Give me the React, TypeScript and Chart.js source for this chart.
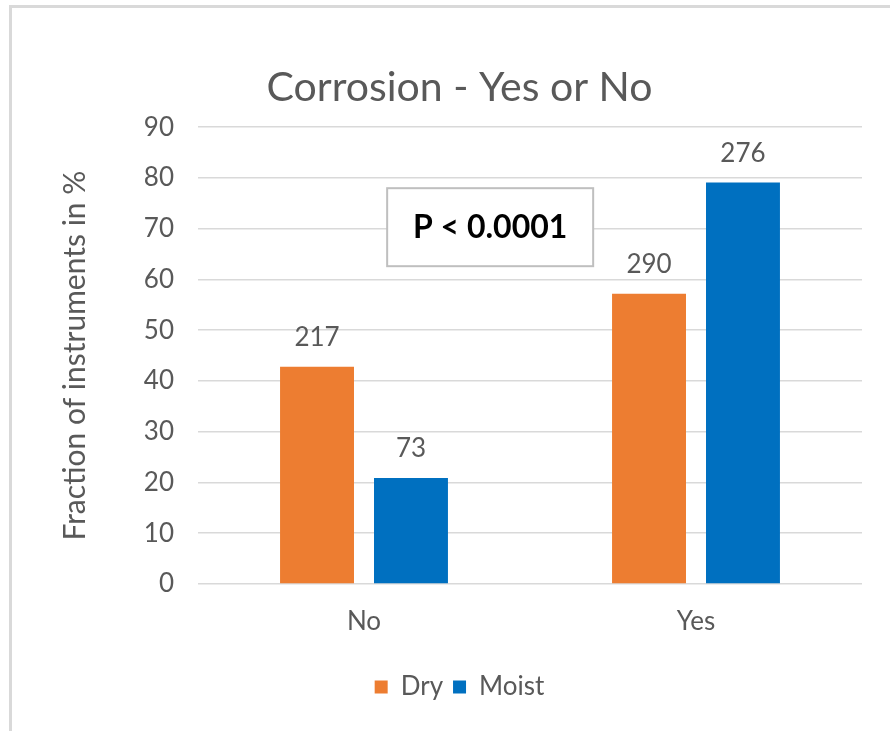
import React, { useEffect, useRef } from "react";
import { Chart, registerables } from "chart.js";

Chart.register(...registerables);

const categories = ["No", "Yes"];
const seriesNames = ["Dry", "Moist"];
const dryValues = [42.8, 57.2];
const moistValues = [20.9, 79.1];
const dryCounts = ["217", "290"];
const moistCounts = ["73", "276"];
const yMin = 0;
const yMax = 90;
const yStep = 10;
const titleText = "Corrosion - Yes or No";
const yAxisTitle = "Fraction of instruments in %";
const pValueText = "P < 0.0001";

const FONT = "Lato, 'Open Sans', sans-serif";
const GREY = "#595959";

const countLabels = [dryCounts, moistCounts];

const dataLabelPlugin = {
  id: "countLabels",
  afterDatasetsDraw(chart: any) {
    const ctx = chart.ctx;
    ctx.save();
    ctx.font = `26px ${FONT}`;
    ctx.fillStyle = GREY;
    ctx.textAlign = "center";
    ctx.textBaseline = "alphabetic";
    chart.data.datasets.forEach((_ds: any, i: number) => {
      const meta = chart.getDatasetMeta(i);
      meta.data.forEach((bar: any, j: number) => {
        ctx.fillText(countLabels[i][j], bar.x, bar.y - 21);
      });
    });
    ctx.restore();
  },
};

const pValuePlugin = {
  id: "pValueBox",
  afterDraw(chart: any) {
    const { ctx, scales } = chart;
    const xs = scales.x;
    const ys = scales.y;
    const x0 = xs.getPixelForValue(0);
    const x1 = xs.getPixelForValue(1);
    const cx = x0 + (x1 - x0) * 0.38;
    const cy = ys.getPixelForValue(70.3);
    const w = 206;
    const h = 78;
    ctx.save();
    ctx.fillStyle = "#ffffff";
    ctx.fillRect(cx - w / 2, cy - h / 2, w, h);
    ctx.strokeStyle = "#bfbfbf";
    ctx.lineWidth = 2;
    ctx.strokeRect(cx - w / 2, cy - h / 2, w, h);
    ctx.font = `bold 32px ${FONT}`;
    ctx.fillStyle = "#000000";
    ctx.textAlign = "center";
    ctx.textBaseline = "middle";
    ctx.fillText(pValueText, cx, cy);
    ctx.restore();
  },
};

export default function App() {
  const canvasRef = useRef<HTMLCanvasElement>(null);

  useEffect(() => {
    if (!canvasRef.current) return;
    const chart = new Chart(canvasRef.current, {
      type: "bar",
      data: {
        labels: categories,
        datasets: [
          {
            label: seriesNames[0],
            data: dryValues,
            backgroundColor: "#ED7D31",
            categoryPercentage: 0.566,
            barPercentage: 0.787,
          },
          {
            label: seriesNames[1],
            data: moistValues,
            backgroundColor: "#0070C0",
            categoryPercentage: 0.566,
            barPercentage: 0.787,
          },
        ],
      },
      options: {
        animation: false,
        responsive: false,
        maintainAspectRatio: false,
        layout: { padding: { top: 63, left: 57, right: 28, bottom: 21 } },
        plugins: {
          tooltip: { enabled: false },
          title: {
            display: true,
            text: titleText,
            color: GREY,
            font: { family: FONT, size: 41, weight: "normal" },
            padding: { top: 0, bottom: 15 },
          },
          legend: {
            display: true,
            position: "bottom",
            labels: {
              color: GREY,
              font: { family: FONT, size: 26 },
              boxWidth: 13,
              boxHeight: 13,
              padding: 10,
            },
          },
        },
        scales: {
          x: {
            grid: { display: false, drawTicks: false },
            border: { display: false },
            ticks: {
              color: GREY,
              font: { family: FONT, size: 26 },
              padding: 22,
            },
            afterFit(scale: any) {
              scale.height = 80;
            },
          },
          y: {
            min: yMin,
            max: yMax,
            grid: { color: "#d9d9d9", lineWidth: 1.5, drawTicks: false },
            border: { display: false },
            ticks: {
              stepSize: yStep,
              color: GREY,
              font: { family: FONT, size: 26 },
              padding: 24,
            },
            title: {
              display: true,
              text: yAxisTitle,
              color: GREY,
              font: { family: FONT, size: 30, weight: "normal" },
              padding: { top: 0, bottom: 0 },
            },
            afterFit(scale: any) {
              scale.width = 141;
            },
          },
        },
      },
      plugins: [dataLabelPlugin, pValuePlugin],
    });
    return () => chart.destroy();
  }, []);

  return (
    <div
      style={{
        position: "absolute",
        left: 0,
        top: 0,
        width: 890,
        height: 731,
        overflow: "hidden",
        background: "#ffffff",
      }}
    >
      <div
        style={{
          position: "absolute",
          left: 9,
          top: 5,
          width: 1000,
          height: 1000,
          borderTop: "3px solid #d9d9d9",
          borderLeft: "3px solid #d9d9d9",
        }}
      />
      <canvas
        ref={canvasRef}
        width={890}
        height={731}
        style={{ position: "absolute", left: 0, top: 0 }}
      />
    </div>
  );
}
